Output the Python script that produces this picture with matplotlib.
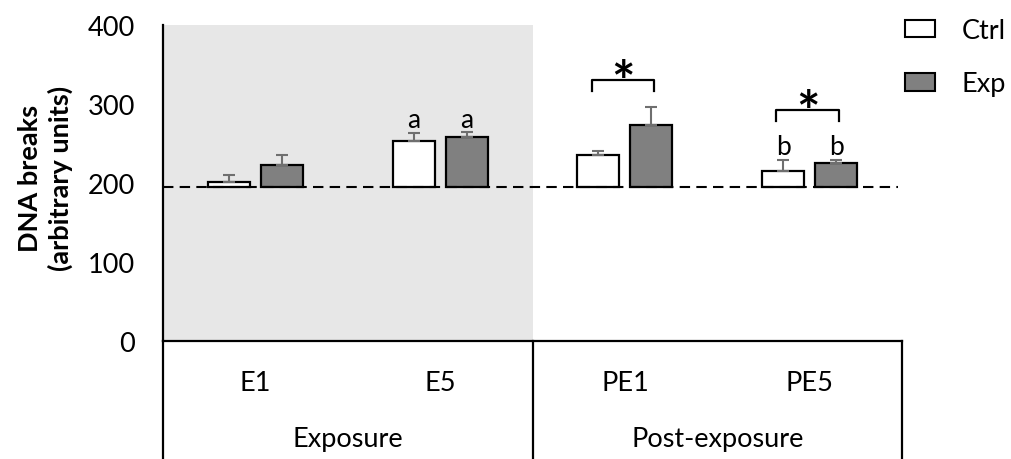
import matplotlib
matplotlib.use("Agg")
import matplotlib.pyplot as plt
import numpy as np
from matplotlib.patches import Patch

plt.rcParams['font.family'] = ['Lato', 'DejaVu Sans']

categories = ["E1", "E5", "PE1", "PE5"]
groups = ["Exposure", "Post-exposure"]
ctrl = [201, 253, 236, 215]
ctrl_err = [9.5, 10, 4, 14.5]
exp = [223, 258, 273, 225]
exp_err = [13, 6, 23, 4.5]
baseline = 195
yticks = [0, 100, 200, 300, 400]
letters_ctrl = ["", "a", "", "b"]
letters_exp = ["", "a", "", "b"]

W, H = 1011, 460
fig = plt.figure(figsize=(W / 100, H / 100), dpi=100)
ax = fig.add_axes([163 / W, (H - 342) / H, 739 / W, 316 / H])

x = np.arange(len(categories))
off = 0.1435
bw = 0.227

ax.axvspan(-0.5, 1.5, color='#e7e7e7', zorder=0, lw=0)

ekw = dict(ecolor='#6f6f6f', elinewidth=1.5, capsize=4, capthick=1.5)
ax.bar(x - off, np.array(ctrl) - baseline, bw, bottom=baseline, color='white',
       edgecolor='black', linewidth=1.6, zorder=2,
       yerr=[np.zeros(4), ctrl_err], error_kw=ekw)
ax.bar(x + off, np.array(exp) - baseline, bw, bottom=baseline, color='#808080',
       edgecolor='black', linewidth=1.6, zorder=2,
       yerr=[np.zeros(4), exp_err], error_kw=ekw)

ax.axhline(baseline, xmin=0, xmax=0.995, color='black', lw=1.5,
           dashes=(5, 3), zorder=3)

# letters
for i in range(4):
    if letters_ctrl[i]:
        ax.text(x[i] - off, ctrl[i] + ctrl_err[i] + 17, letters_ctrl[i],
                ha='center', va='center', fontsize=19)
    if letters_exp[i]:
        ax.text(x[i] + off, exp[i] + exp_err[i] + 17, letters_exp[i],
                ha='center', va='center', fontsize=19)

# significance brackets
sig = [(2, 331, 317), (3, 293, 278)]
for xi, top, leg in sig:
    xl, xr = xi - 0.18, xi + 0.16
    ax.plot([xl, xl, xr, xr], [leg, top, top, leg], color='black', lw=1.6,
            zorder=3)
    ax.text((xl + xr) / 2, top - 26, "*", ha='center', va='baseline',
            fontsize=40, fontweight='bold')

ax.set_xlim(-0.5, 3.5)
ax.set_ylim(0, 400)
ax.set_yticks(yticks)
ax.set_yticklabels([str(v) for v in yticks], fontsize=19.5)
ax.tick_params(axis='y', length=0, pad=20)
ax.set_xticks([])
for s in ['top', 'right', 'bottom']:
    ax.spines[s].set_visible(False)
ax.spines['left'].set_linewidth(1.6)

ax.set_ylabel("DNA breaks\n(arbitrary units)", fontsize=19.5, fontweight='bold',
              linespacing=1.25)
ax.yaxis.set_label_coords((73 - 163) / 739, (342 - 178) / 316)

# multi-level category axis box
tr = ax.get_xaxis_transform()
ybot = -(H - 342) / 316
ax.plot([-0.5, 3.5], [0, 0], transform=tr, color='black', lw=1.6, clip_on=False)
for xv in [-0.5, 1.5, 3.5]:
    ax.plot([xv, xv], [0, ybot], transform=tr, color='black', lw=1.6,
            clip_on=False)
for i, c in enumerate(categories):
    ax.text(x[i], -(384 - 342) / 316, c, transform=tr, ha='center', va='center',
            fontsize=19.5)
for j, g in enumerate(groups):
    ax.text(0.5 + 2 * j, -(440 - 342) / 316, g, transform=tr, ha='center',
            va='center', fontsize=19.5)

handles = [Patch(facecolor='white', edgecolor='black', lw=1.5, label='Ctrl'),
           Patch(facecolor='#808080', edgecolor='black', lw=1.5, label='Exp')]
fig.legend(handles=handles, loc='upper left', bbox_to_anchor=(905 / W, 1 - 19 / H),
           frameon=False, fontsize=19.5, handlelength=1.1, handleheight=0.62,
           labelspacing=1.05, handletextpad=1.0, borderpad=0, borderaxespad=0)

fig.savefig("out.png", dpi=100)
